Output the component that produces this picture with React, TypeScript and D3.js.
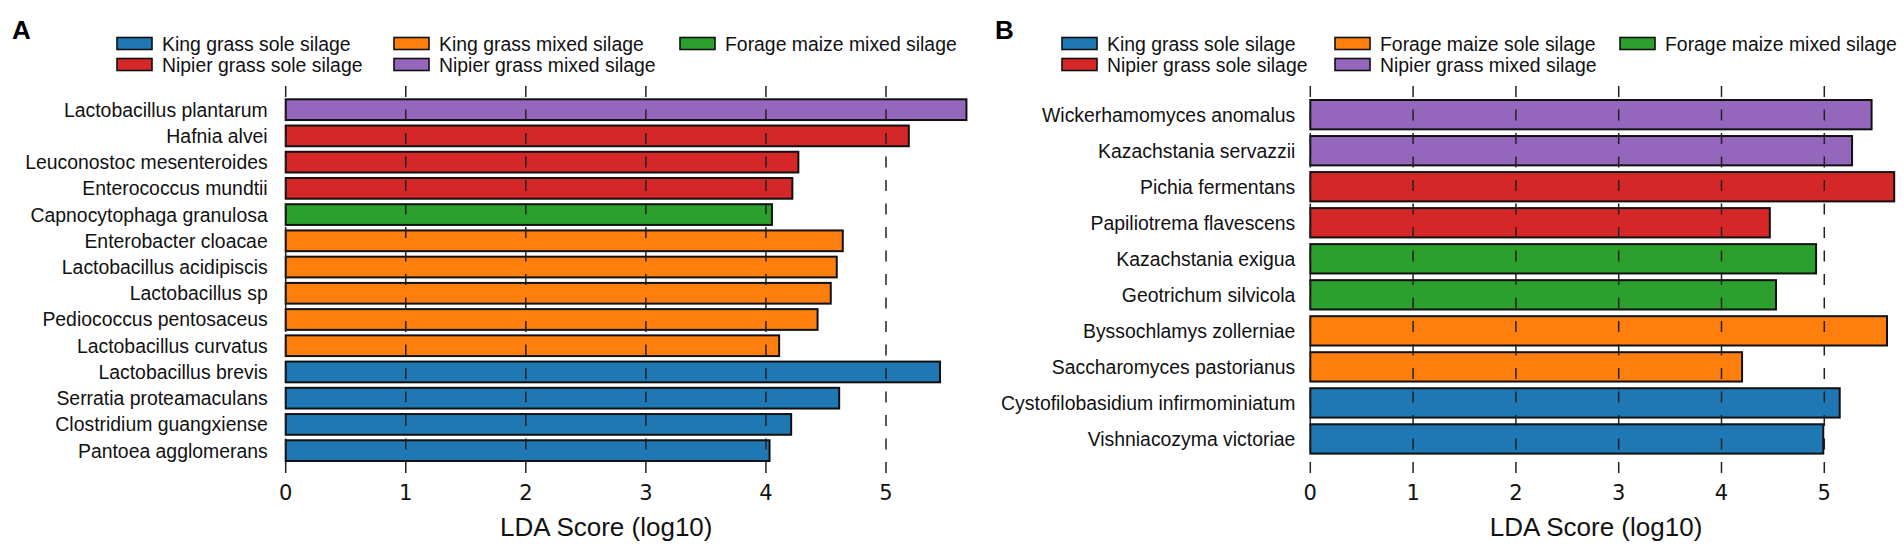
import React, { useEffect, useRef } from "react";
import * as d3 from "d3";

// panel A - bacteria
const taxaA = [
  "Lactobacillus plantarum",
  "Hafnia alvei",
  "Leuconostoc mesenteroides",
  "Enterococcus mundtii",
  "Capnocytophaga granulosa",
  "Enterobacter cloacae",
  "Lactobacillus acidipiscis",
  "Lactobacillus sp",
  "Pediococcus pentosaceus",
  "Lactobacillus curvatus",
  "Lactobacillus brevis",
  "Serratia proteamaculans",
  "Clostridium guangxiense",
  "Pantoea agglomerans",
];
const ldaA = [5.67, 5.19, 4.27, 4.22, 4.05, 4.64, 4.59, 4.54, 4.43, 4.11, 5.45, 4.61, 4.21, 4.03];
const groupA = [
  "Nipier grass mixed silage",
  "Nipier grass sole silage",
  "Nipier grass sole silage",
  "Nipier grass sole silage",
  "Forage maize mixed silage",
  "King grass mixed silage",
  "King grass mixed silage",
  "King grass mixed silage",
  "King grass mixed silage",
  "King grass mixed silage",
  "King grass sole silage",
  "King grass sole silage",
  "King grass sole silage",
  "King grass sole silage",
];
// legend entries, column by column
const legendA = [
  "King grass sole silage",
  "Nipier grass sole silage",
  "King grass mixed silage",
  "Nipier grass mixed silage",
  "Forage maize mixed silage",
];

// panel B - fungi
const taxaB = [
  "Wickerhamomyces anomalus",
  "Kazachstania servazzii",
  "Pichia fermentans",
  "Papiliotrema flavescens",
  "Kazachstania exigua",
  "Geotrichum silvicola",
  "Byssochlamys zollerniae",
  "Saccharomyces pastorianus",
  "Cystofilobasidium infirmominiatum",
  "Vishniacozyma victoriae",
];
const ldaB = [5.46, 5.27, 5.68, 4.47, 4.92, 4.53, 5.61, 4.2, 5.15, 4.99];
const groupB = [
  "Nipier grass mixed silage",
  "Nipier grass mixed silage",
  "Nipier grass sole silage",
  "Nipier grass sole silage",
  "Forage maize mixed silage",
  "Forage maize mixed silage",
  "Forage maize sole silage",
  "Forage maize sole silage",
  "King grass sole silage",
  "King grass sole silage",
];
const legendB = [
  "King grass sole silage",
  "Nipier grass sole silage",
  "Forage maize sole silage",
  "Nipier grass mixed silage",
  "Forage maize mixed silage",
];

// same colour order for both legends
const legendColors = ["#1f77b4", "#d62728", "#ff7f0e", "#9467bd", "#2ca02c"];
const xTicks = [0, 1, 2, 3, 4, 5];
const axisTitle = "LDA Score (log10)";

const W = 1904;
const H = 546;
const labelFont = "'Liberation Sans', Arial, sans-serif";
const tickFont = "'DejaVu Sans', sans-serif";

interface PanelCfg {
  letter: string;
  letterX: number;
  taxa: string[];
  lda: number[];
  groups: string[];
  legend: string[];
  legendCols: number[];
  x0: number;
  x5: number;
  yTop: number;
  yBottom: number;
  padding: number;
  labelGap: number;
  titleAt: number;
}

function drawPanel(svg: d3.Selection<SVGSVGElement, unknown, null, undefined>, cfg: PanelCfg) {
  const g = svg.append("g");

  const x = d3.scaleLinear().domain([0, 5]).range([cfg.x0, cfg.x5]);
  const y = d3
    .scaleBand<string>()
    .domain(cfg.taxa)
    .range([cfg.yTop, cfg.yBottom])
    .padding(cfg.padding);
  const color = d3.scaleOrdinal<string, string>().domain(cfg.legend).range(legendColors);

  // panel letter
  g.append("text")
    .attr("x", cfg.letterX)
    .attr("y", 39)
    .attr("font-family", labelFont)
    .attr("font-weight", "bold")
    .attr("font-size", 26)
    .text(cfg.letter);

  // legend, 2 rows x 3 columns
  const rowBase = [51, 72];
  cfg.legend.forEach((name, i) => {
    const col = Math.floor(i / 2);
    const row = i % 2;
    const lx = cfg.legendCols[col];
    const ly = rowBase[row];
    g.append("rect")
      .attr("x", lx)
      .attr("y", ly - 13.5)
      .attr("width", 35)
      .attr("height", 12)
      .attr("fill", color(name))
      .attr("stroke", "#111")
      .attr("stroke-width", 1.6);
    g.append("text")
      .attr("x", lx + 45)
      .attr("y", ly)
      .attr("font-family", labelFont)
      .attr("font-size", 19.4)
      .attr("fill", "#111")
      .text(name);
  });

  // bars
  g.selectAll("rect.bar")
    .data(cfg.taxa)
    .enter()
    .append("rect")
    .attr("class", "bar")
    .attr("x", x(0))
    .attr("y", (d) => y(d) as number)
    .attr("width", (_d, i) => x(cfg.lda[i]) - x(0))
    .attr("height", y.bandwidth())
    .attr("fill", (_d, i) => color(cfg.groups[i]))
    .attr("stroke", "#111")
    .attr("stroke-width", 2);

  // taxon labels
  g.selectAll("text.taxon")
    .data(cfg.taxa)
    .enter()
    .append("text")
    .attr("class", "taxon")
    .attr("x", x(0) - cfg.labelGap)
    .attr("y", (d) => (y(d) as number) + y.bandwidth() / 2)
    .attr("dy", "0.36em")
    .attr("text-anchor", "end")
    .attr("font-family", labelFont)
    .attr("font-size", 19.4)
    .attr("fill", "#111")
    .text((d) => d);

  // dashed grid lines drawn over the bars
  g.selectAll("line.grid")
    .data(xTicks)
    .enter()
    .append("line")
    .attr("class", "grid")
    .attr("x1", (d) => x(d))
    .attr("x2", (d) => x(d))
    .attr("y1", 86)
    .attr("y2", 476)
    .attr("stroke", "#222")
    .attr("stroke-width", 1.5)
    .attr("stroke-dasharray", "11,12.5");

  g.selectAll("text.tick")
    .data(xTicks)
    .enter()
    .append("text")
    .attr("class", "tick")
    .attr("x", (d) => x(d))
    .attr("y", 500)
    .attr("text-anchor", "middle")
    .attr("font-family", tickFont)
    .attr("font-size", 21)
    .attr("fill", "#111")
    .text((d) => d3.format("d")(d));

  g.append("text")
    .attr("x", x(cfg.titleAt))
    .attr("y", 536)
    .attr("text-anchor", "middle")
    .attr("font-family", labelFont)
    .attr("font-size", 26)
    .attr("fill", "#111")
    .text(axisTitle);
}

const App: React.FC = () => {
  const svgRef = useRef<SVGSVGElement | null>(null);

  useEffect(() => {
    document.body.style.margin = "0";
    if (!svgRef.current) return;
    const svg = d3.select(svgRef.current);
    svg.selectAll("*").remove();

    svg.append("rect").attr("width", W).attr("height", H).attr("fill", "#fff");

    drawPanel(svg, {
      letter: "A",
      letterX: 12,
      taxa: taxaA,
      lda: ldaA,
      groups: groupA,
      legend: legendA,
      legendCols: [117, 394, 680],
      x0: 285.7,
      x5: 886,
      yTop: 93.8,
      yBottom: 466.5,
      padding: 0.21,
      labelGap: 18,
      titleAt: 2.67,
    });

    drawPanel(svg, {
      letter: "B",
      letterX: 995,
      taxa: taxaB,
      lda: ldaB,
      groups: groupB,
      legend: legendB,
      legendCols: [1062, 1335, 1620],
      x0: 1310.3,
      x5: 1824.3,
      yTop: 93.3,
      yBottom: 460.3,
      padding: 0.186,
      labelGap: 15,
      titleAt: 2.78,
    });
  }, []);

  return <svg ref={svgRef} width={W} height={H} style={{ display: "block" }}></svg>;
};

export default App;
